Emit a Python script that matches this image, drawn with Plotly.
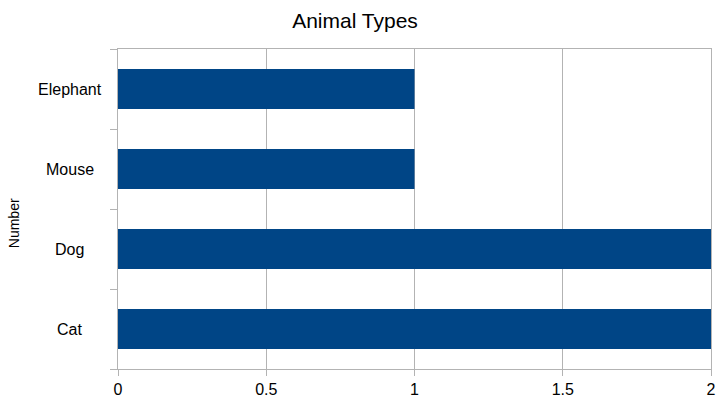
import plotly.graph_objects as go

categories = ["Cat", "Dog", "Mouse", "Elephant"]
values = [2, 2, 1, 1]
x_ticks = [0, 0.5, 1, 1.5, 2]
x_tick_labels = ["0", "0.5", "1", "1.5", "2"]

BAR = "#004586"
GRID = "#b3b3b3"
FONT = "Liberation Sans, Arial, sans-serif"

fig = go.Figure()
fig.add_trace(go.Bar(
    y=categories, x=values, orientation="h",
    marker=dict(color=BAR, line=dict(width=0)),
    width=0.5,
))

# centered category labels (as in the reference)
for c in categories:
    fig.add_annotation(
        xref="paper", x=-0.0815, yref="y", y=c, text=c, showarrow=False,
        xanchor="center", yanchor="middle",
        font=dict(family=FONT, size=16, color="black"),
    )

fig.add_annotation(
    xref="paper", x=-0.174, yref="paper", y=0.455, text="Number", textangle=-90,
    showarrow=False, xanchor="center", yanchor="middle",
    font=dict(family=FONT, size=14, color="black"),
)

fig.update_layout(
    width=718, height=397,
    margin=dict(l=118, r=7, t=49, b=28, autoexpand=False),
    paper_bgcolor="white", plot_bgcolor="white",
    showlegend=False,
    title=dict(text="Animal Types", x=0.4944, xanchor="center", y=0.947, yanchor="middle",
               font=dict(family=FONT, size=21, color="black")),
    font=dict(family=FONT, size=16, color="black"),
    xaxis=dict(
        range=[0, 2], tickvals=x_ticks, ticktext=x_tick_labels,
        showgrid=True, gridcolor=GRID, gridwidth=1,
        showline=True, linecolor=GRID, linewidth=1, mirror=True,
        ticks="outside", ticklen=6, tickcolor=GRID,
        zeroline=False, tickfont=dict(size=16),
        automargin=False, ticklabeloverflow="allow",
    ),
    yaxis=dict(
        range=[-0.5, 3.5], categoryorder="array", categoryarray=categories,
        showgrid=False, showline=True, linecolor=GRID, linewidth=1, mirror=True,
        ticks="outside", ticklen=7, tickcolor=GRID, tickson="boundaries",
        showticklabels=False, zeroline=False, automargin=False,
    ),
)

fig.write_html(
    "out.html",
    config={"displayModeBar": False},
    post_script="document.body.style.margin='0';document.body.style.overflow='hidden';",
)
